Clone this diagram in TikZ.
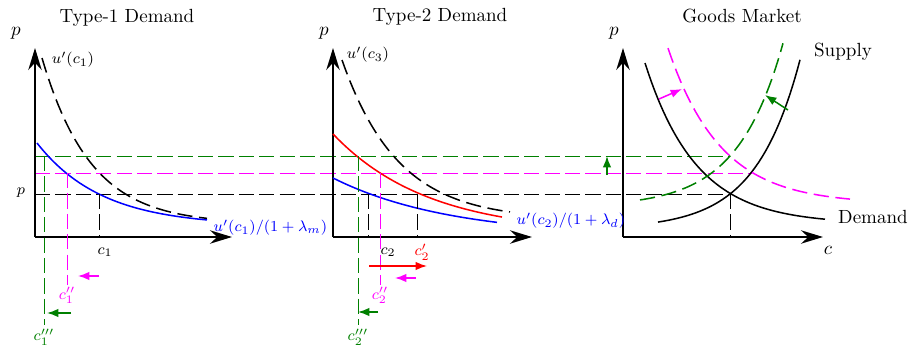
\documentclass[tikz,border=0pt]{standalone}
\usepackage{amsmath,amssymb}
\usetikzlibrary{arrows.meta}
\definecolor{dgreen}{rgb}{0,0.5,0}
\definecolor{mag}{rgb}{1,0,1}
\tikzset{
  axis/.style={line width=1.1pt, -{Stealth[length=11.5pt, width=7pt]}},
  guide/.style={thin, dash pattern=on 8pt off 2.7pt},
  oldcurve/.style={thick, dash pattern=on 8pt off 3.5pt},
  curve/.style={thick, samples=60},
  movearrow/.style={thick, -{Latex[length=6pt, width=4.5pt]}},
  lbl/.style={font=\footnotesize},
}

\begin{document}
\begin{tikzpicture}[x=0.525pt, y=0.525pt]
    \useasboundingbox (0,0) rectangle (912,352);

    % origins and equilibrium points
    \coordinate (O1) at (35,115);
    \coordinate (O2) at (333,115);
    \coordinate (O3) at (623,115);
    \coordinate (p1) at (99,158);
    \coordinate (m1) at (67,179);
    \coordinate (g1) at (44,196);
    \coordinate (p2) at (368,158);
    \coordinate (r2) at (417,158);
    \coordinate (m2) at (380,179);
    \coordinate (g2) at (358,196);
    \coordinate (E) at (730,158);
    \coordinate (Em) at (752,179);
    \coordinate (Eg) at (730,196);

    % titles
    \node (t1) at (127,334) {Type-1 Demand};
    \node (t2) at (440,335) {Type-2 Demand};
    \node (t3) at (742,336) {Goods Market};

    % price levels
    \draw[guide] (O1 |- E) -- (E);
    \draw[guide, mag] (O1 |- Em) -- (Em);
    \draw[guide, dgreen] (O1 |- Eg) -- (Eg);
    \node[lbl] (plab) at (21,159) {$p$};

    % axes
    \draw[axis] (O1) -- (35,304);
    \draw[axis] (O1) -- (232,115);
    \draw[axis] (O2) -- (333,304);
    \draw[axis] (O2) -- (532,115);
    \draw[axis] (O3) -- (623,304);
    \draw[axis] (O3) -- (823,115);
    \node (py1) at (16,319) {$p$};
    \node (py2) at (324,319) {$p$};
    \node (py3) at (614,319) {$p$};
    \node (cx3) at (828,102) {$c$};

    % type-1 demand
    \draw[curve, oldcurve] plot[domain=42:207] (\x, {128+166*exp(-0.0205*(\x-42))});
    \node[lbl] (u1) at (73,292) {$u'(c_1)$};
    \draw[curve, blue] plot[domain=37:207] (\x, {126+83*exp(-0.0154*(\x-37))});
    \node[lbl, blue, anchor=west] (u1m) at (207,124) {$u'(c_1)/(1+\lambda_m)$};

    \draw[guide] (p1) -- (p1 |- O1);
    \node[lbl] (c1) at (105,100) {$c_1$};
    \draw[guide, mag] (m1) -- (67,67) node[lbl, below, inner sep=1pt] (c1b) {$c_1''$};
    \draw[guide, dgreen] (g1) -- (44,27) node[lbl, below, inner sep=2pt] (c1c) {$c_1'''$};
    \draw[movearrow, mag] (99,76) -- (78,76);
    \draw[movearrow, dgreen] (71,39) -- (47,39);

    % type-2 demand
    \draw[curve, oldcurve] plot[domain=342:510] (\x, {132+160*exp(-0.0178*(\x-342))});
    \node[lbl] (u3) at (368,297) {$u'(c_3)$};
    \draw[curve, red] plot[domain=333:502] (\x, {118+100*exp(-0.0105*(\x-333))});
    \draw[curve, blue] plot[domain=333:497] (\x, {115+59*exp(-0.0085*(\x-333))});
    \node[lbl, blue, anchor=west] (u2d) at (510,131) {$u'(c_2)/(1+\lambda_d)$};

    \draw[guide] (p2) -- (p2 |- O2);
    \draw[guide] (r2) -- (r2 |- O2);
    \node[lbl] (c2) at (388,100) {$c_2$};
    \node[lbl, red] (c2a) at (422,100) {$c_2'$};
    \draw[guide, mag] (m2) -- (380,67) node[lbl, below, inner sep=1pt] (c2b) {$c_2''$};
    \draw[guide, dgreen] (g2) -- (358,27) node[lbl, below, inner sep=2pt] (c2c) {$c_2'''$};
    \draw[movearrow, red] (369,86) -- (427,86);
    \draw[movearrow, mag] (416,74) -- (395,74);
    \draw[movearrow, dgreen] (378,40) -- (358,40);

    % goods market
    \draw[curve] plot[domain=645:825] (\x, {128+161*exp(-0.0195*(\x-645))});
    \draw[curve] plot[domain=658:800] (\x, {123+35*exp(0.0225*(\x-730))});
    \draw[curve, oldcurve, mag] plot[domain=668:850] (\x, {148+48*exp(-0.019*(\x-730))});
    \draw[curve, oldcurve, dgreen] plot[domain=640:783] (\x, {145+51*exp(0.022*(\x-730))});
    \node (sup) at (843,300) {Supply};
    \node (dem) at (873,135) {Demand};
    \draw[guide] (E) -- (E |- O3);
    \draw[movearrow, mag] (659,253) -- (682,263);
    \draw[movearrow, dgreen] (788,242) -- (765,257);
    \draw[movearrow, dgreen] (607,177) -- (607,196);
\end{tikzpicture}
\end{document}
